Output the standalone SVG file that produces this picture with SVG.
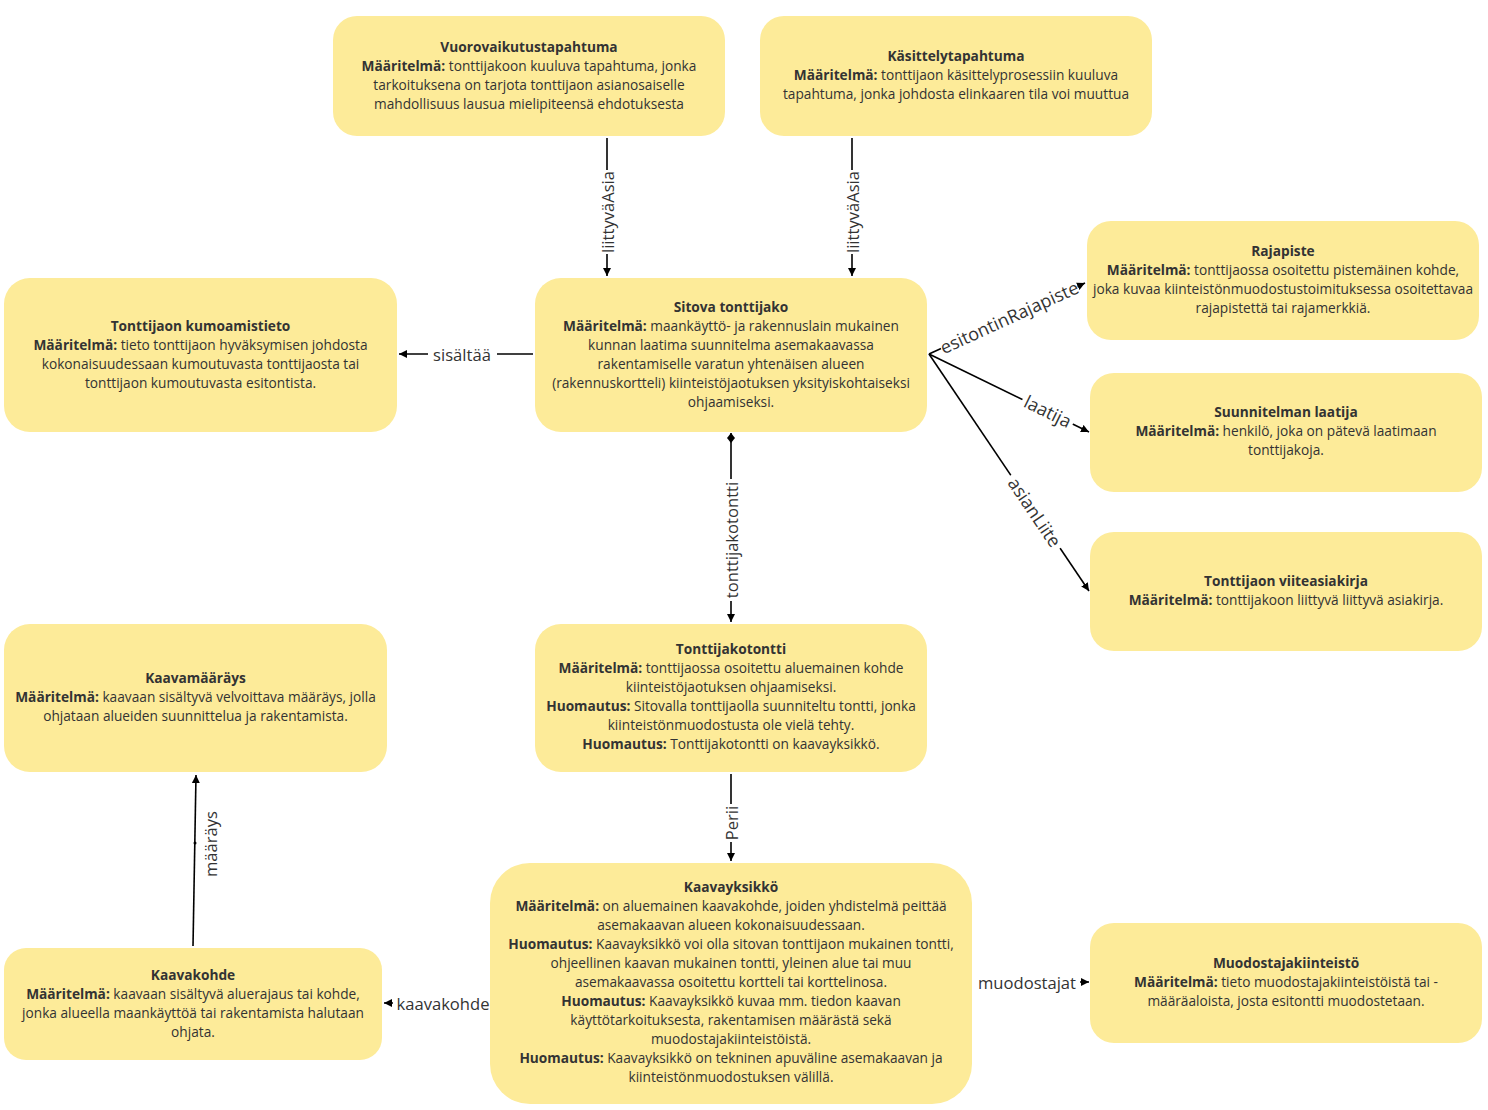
<svg xmlns="http://www.w3.org/2000/svg" width="1488" height="1110" viewBox="0 0 1488 1110">
<style>
.node rect{fill:#FDEB99;stroke:none}
.node text{font-family:"Open Sans","Noto Sans",sans-serif;font-size:13.7px;fill:#333333;text-anchor:middle}
.b{font-weight:bold}
.conn line{stroke:#000;stroke-width:1.6;fill:none}
.lbl{font-family:"Open Sans","Noto Sans",sans-serif;font-size:16.6px;fill:#333333;text-anchor:middle;dominant-baseline:central}
.lbl2{font-family:"Open Sans","Noto Sans",sans-serif;font-size:18px;fill:#333333;text-anchor:middle;dominant-baseline:central}
.bg{fill:#ffffff}
</style>
<defs>
<marker id="arr" markerWidth="10" markerHeight="10" refX="8" refY="4" orient="auto" markerUnits="userSpaceOnUse">
<path d="M0,0 L8,4 L0,8 Z" fill="#000"/>
</marker>
<marker id="dia" markerWidth="14" markerHeight="14" refX="1" refY="5" orient="auto" markerUnits="userSpaceOnUse">
<path d="M1,5 L6,1 L11,5 L6,9 Z" fill="#000"/>
</marker>
</defs>
<rect width="1488" height="1110" fill="#ffffff"/>

<g id="connectors" class="conn">
<line x1="607" y1="138" x2="607" y2="276" marker-end="url(#arr)"/>
<g transform="translate(607,212) rotate(-90)"><rect class="bg" x="-42" y="-9" width="84" height="18"/><text class="lbl" x="0" y="0">liittyväAsia</text></g>
<line x1="852" y1="138" x2="852" y2="276" marker-end="url(#arr)"/>
<g transform="translate(852,212) rotate(-90)"><rect class="bg" x="-42" y="-9" width="84" height="18"/><text class="lbl" x="0" y="0">liittyväAsia</text></g>
<line x1="533" y1="354" x2="399" y2="354" marker-end="url(#arr)"/>
<rect class="bg" x="428" y="345" width="69" height="18"/><text class="lbl" x="462" y="354">sisältää</text>
<line x1="929" y1="354" x2="1085" y2="283" marker-end="url(#arr)"/>
<g transform="translate(1009,317) rotate(-24.5)"><rect class="bg" x="-75" y="-10" width="150" height="20"/><text class="lbl2" x="0" y="0">esitontinRajapiste</text></g>
<line x1="929" y1="354" x2="1089" y2="432" marker-end="url(#arr)"/>
<g transform="translate(1048,411) rotate(26)"><rect class="bg" x="-28" y="-10" width="56" height="20"/><text class="lbl2" x="0" y="0">laatija</text></g>
<line x1="929" y1="354" x2="1089" y2="591" marker-end="url(#arr)"/>
<g transform="translate(1035,512) rotate(56)"><rect class="bg" x="-44" y="-10" width="88" height="20"/><text class="lbl2" x="0" y="0">asianLiite</text></g>
<line x1="731" y1="433" x2="731" y2="622" marker-start="url(#dia)" marker-end="url(#arr)"/>
<g transform="translate(731,540) rotate(-90)"><rect class="bg" x="-61" y="-9" width="122" height="18"/><text class="lbl" x="0" y="0">tonttijakotontti</text></g>
<line x1="731" y1="774" x2="731" y2="861" marker-end="url(#arr)"/>
<g transform="translate(731,823) rotate(-90)"><rect class="bg" x="-19" y="-9" width="38" height="18"/><text class="lbl" x="0" y="0">Perii</text></g>
<line x1="193" y1="946" x2="196" y2="775" marker-end="url(#arr)"/>
<circle cx="195" cy="843" r="1.5" fill="#000"/>
<g transform="translate(210,844) rotate(-90)"><text class="lbl" x="0" y="0">määräys</text></g>
<line x1="489" y1="1003" x2="384" y2="1003" marker-end="url(#arr)"/>
<rect class="bg" x="393" y="994" width="97" height="18"/><text class="lbl" x="443" y="1003">kaavakohde</text>
<line x1="973" y1="982" x2="1089" y2="982" marker-end="url(#arr)"/>
<rect class="bg" x="973" y="973" width="107" height="18"/><text class="lbl" x="1027" y="982">muodostajat</text>
</g>

<g id="n-vuorovaikutustapahtuma" class="node">
<rect x="333" y="16" width="392" height="120" rx="24"/>
<text x="529" y="52"><tspan class="b">Vuorovaikutustapahtuma</tspan><tspan x="529" dy="19"><tspan class="b">Määritelmä:</tspan> tonttijakoon kuuluva tapahtuma, jonka</tspan><tspan x="529" dy="19">tarkoituksena on tarjota tonttijaon asianosaiselle</tspan><tspan x="529" dy="19">mahdollisuus lausua mielipiteensä ehdotuksesta</tspan></text>
</g>

<g id="n-kasittelytapahtuma" class="node">
<rect x="760" y="16" width="392" height="120" rx="24"/>
<text x="956" y="61"><tspan class="b">Käsittelytapahtuma</tspan><tspan x="956" dy="19"><tspan class="b">Määritelmä:</tspan> tonttijaon käsittelyprosessiin kuuluva</tspan><tspan x="956" dy="19">tapahtuma, jonka johdosta elinkaaren tila voi muuttua</tspan></text>
</g>

<g id="n-kumoamistieto" class="node">
<rect x="4" y="278" width="393" height="154" rx="26"/>
<text x="200.5" y="331"><tspan class="b">Tonttijaon kumoamistieto</tspan><tspan x="200.5" dy="19"><tspan class="b">Määritelmä:</tspan> tieto tonttijaon hyväksymisen johdosta</tspan><tspan x="200.5" dy="19">kokonaisuudessaan kumoutuvasta tonttijaosta tai</tspan><tspan x="200.5" dy="19">tonttijaon kumoutuvasta esitontista.</tspan></text>
</g>

<g id="n-sitova-tonttijako" class="node">
<rect x="535" y="278" width="392" height="154" rx="26"/>
<text x="731" y="312"><tspan class="b">Sitova tonttijako</tspan><tspan x="731" dy="19"><tspan class="b">Määritelmä:</tspan> maankäyttö- ja rakennuslain mukainen</tspan><tspan x="731" dy="19">kunnan laatima suunnitelma asemakaavassa</tspan><tspan x="731" dy="19">rakentamiselle varatun yhtenäisen alueen</tspan><tspan x="731" dy="19">(rakennuskortteli) kiinteistöjaotuksen yksityiskohtaiseksi</tspan><tspan x="731" dy="19">ohjaamiseksi.</tspan></text>
</g>

<g id="n-rajapiste" class="node">
<rect x="1087" y="221" width="392" height="119" rx="24"/>
<text x="1283" y="256"><tspan class="b">Rajapiste</tspan><tspan x="1283" dy="19"><tspan class="b">Määritelmä:</tspan> tonttijaossa osoitettu pistemäinen kohde,</tspan><tspan x="1283" dy="19">joka kuvaa kiinteistönmuodostustoimituksessa osoitettavaa</tspan><tspan x="1283" dy="19">rajapistettä tai rajamerkkiä.</tspan></text>
</g>

<g id="n-suunnitelman-laatija" class="node">
<rect x="1090" y="373" width="392" height="119" rx="24"/>
<text x="1286" y="417"><tspan class="b">Suunnitelman laatija</tspan><tspan x="1286" dy="19"><tspan class="b">Määritelmä:</tspan> henkilö, joka on pätevä laatimaan</tspan><tspan x="1286" dy="19">tonttijakoja.</tspan></text>
</g>

<g id="n-viiteasiakirja" class="node">
<rect x="1090" y="532" width="392" height="119" rx="24"/>
<text x="1286" y="586"><tspan class="b">Tonttijaon viiteasiakirja</tspan><tspan x="1286" dy="19"><tspan class="b">Määritelmä:</tspan> tonttijakoon liittyvä liittyvä asiakirja.</tspan></text>
</g>

<g id="n-kaavamaarays" class="node">
<rect x="4" y="624" width="383" height="148" rx="26"/>
<text x="195.5" y="683"><tspan class="b">Kaavamääräys</tspan><tspan x="195.5" dy="19"><tspan class="b">Määritelmä:</tspan> kaavaan sisältyvä velvoittava määräys, jolla</tspan><tspan x="195.5" dy="19">ohjataan alueiden suunnittelua ja rakentamista.</tspan></text>
</g>

<g id="n-tonttijakotontti" class="node">
<rect x="535" y="624" width="392" height="148" rx="26"/>
<text x="731" y="654"><tspan class="b">Tonttijakotontti</tspan><tspan x="731" dy="19"><tspan class="b">Määritelmä:</tspan> tonttijaossa osoitettu aluemainen kohde</tspan><tspan x="731" dy="19">kiinteistöjaotuksen ohjaamiseksi.</tspan><tspan x="731" dy="19"><tspan class="b">Huomautus:</tspan> Sitovalla tonttijaolla suunniteltu tontti, jonka</tspan><tspan x="731" dy="19">kiinteistönmuodostusta ole vielä tehty.</tspan><tspan x="731" dy="19"><tspan class="b">Huomautus:</tspan> Tonttijakotontti on kaavayksikkö.</tspan></text>
</g>

<g id="n-kaavakohde" class="node">
<rect x="4" y="948" width="378" height="112" rx="22"/>
<text x="193" y="980"><tspan class="b">Kaavakohde</tspan><tspan x="193" dy="19"><tspan class="b">Määritelmä:</tspan> kaavaan sisältyvä aluerajaus tai kohde,</tspan><tspan x="193" dy="19">jonka alueella maankäyttöä tai rakentamista halutaan</tspan><tspan x="193" dy="19">ohjata.</tspan></text>
</g>

<g id="n-kaavayksikko" class="node">
<rect x="490" y="863" width="482" height="241" rx="40"/>
<text x="731" y="892"><tspan class="b">Kaavayksikkö</tspan><tspan x="731" dy="19"><tspan class="b">Määritelmä:</tspan> on aluemainen kaavakohde, joiden yhdistelmä peittää</tspan><tspan x="731" dy="19">asemakaavan alueen kokonaisuudessaan.</tspan><tspan x="731" dy="19"><tspan class="b">Huomautus:</tspan> Kaavayksikkö voi olla sitovan tonttijaon mukainen tontti,</tspan><tspan x="731" dy="19">ohjeellinen kaavan mukainen tontti, yleinen alue tai muu</tspan><tspan x="731" dy="19">asemakaavassa osoitettu kortteli tai korttelinosa.</tspan><tspan x="731" dy="19"><tspan class="b">Huomautus:</tspan> Kaavayksikkö kuvaa mm. tiedon kaavan</tspan><tspan x="731" dy="19">käyttötarkoituksesta, rakentamisen määrästä sekä</tspan><tspan x="731" dy="19">muodostajakiinteistöistä.</tspan><tspan x="731" dy="19"><tspan class="b">Huomautus:</tspan> Kaavayksikkö on tekninen apuväline asemakaavan ja</tspan><tspan x="731" dy="19">kiinteistönmuodostuksen välillä.</tspan></text>
</g>

<g id="n-muodostajakiinteisto" class="node">
<rect x="1090" y="923" width="392" height="120" rx="24"/>
<text x="1286" y="968"><tspan class="b">Muodostajakiinteistö</tspan><tspan x="1286" dy="19"><tspan class="b">Määritelmä:</tspan> tieto muodostajakiinteistöistä tai -</tspan><tspan x="1286" dy="19">määräaloista, josta esitontti muodostetaan.</tspan></text>
</g>
</svg>
